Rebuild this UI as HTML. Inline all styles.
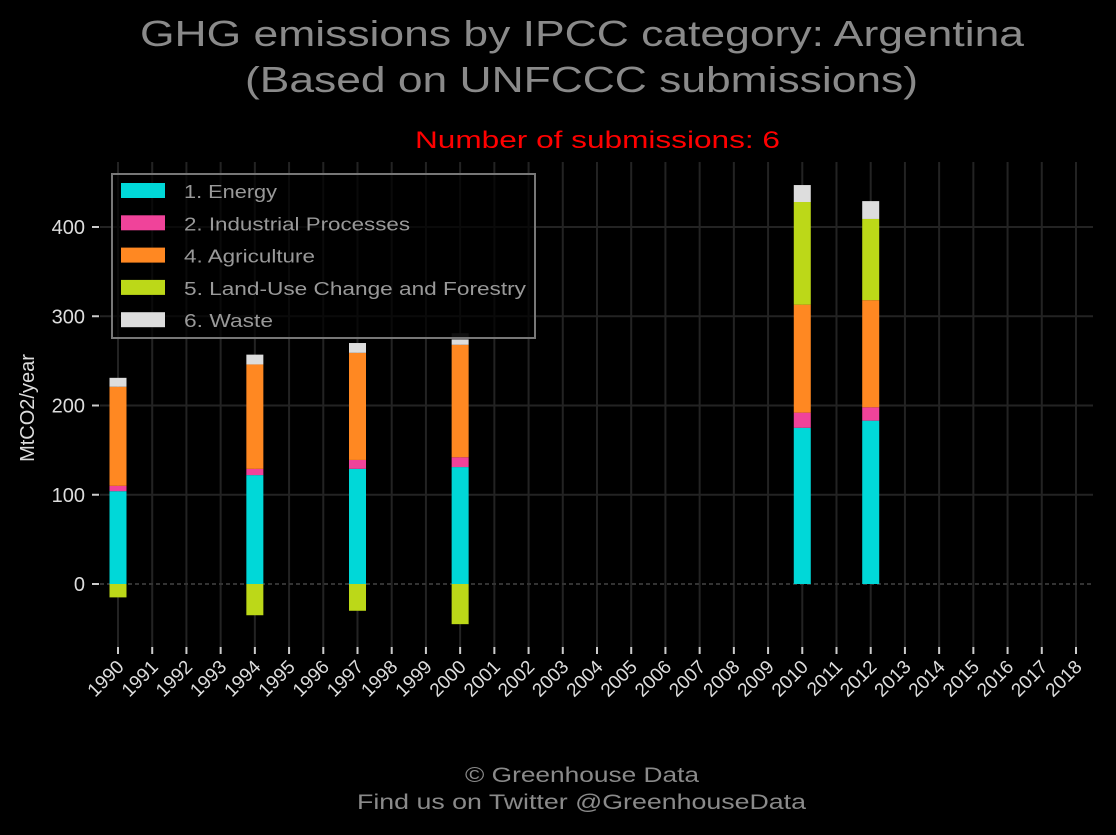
<!DOCTYPE html>
<html><head><meta charset="utf-8"><style>
body{margin:0;background:#000;width:1116px;height:830px;overflow:hidden;font-family:"Liberation Sans",sans-serif}
</style></head><body>
<svg width="1116" height="830" font-family="Liberation Sans, sans-serif">
<text x="140" y="46" textLength="884" lengthAdjust="spacingAndGlyphs" fill="#8a8a8a" font-size="36">GHG emissions by IPCC category: Argentina</text>
<text x="245" y="92" textLength="673" lengthAdjust="spacingAndGlyphs" fill="#8a8a8a" font-size="36">(Based on UNFCCC submissions)</text>
<text x="415" y="148" textLength="365" lengthAdjust="spacingAndGlyphs" fill="#ff0000" font-size="24">Number of submissions: 6</text>
<g id="grid"></g>
<g id="bars"></g>
<g id="axes"></g>
<text transform="translate(34,408) rotate(-90)" text-anchor="middle" fill="#ddd" font-size="20">MtCO2/year</text>
<g>
<rect x="112" y="174" width="423" height="164" fill="#000" fill-opacity="0.7" stroke="#777" stroke-width="2"/>
<g id="legend"></g>
</g>
<text x="465" y="782" textLength="234" lengthAdjust="spacingAndGlyphs" fill="#8a8a8a" font-size="21">© Greenhouse Data</text>
<text x="357" y="809" textLength="449" lengthAdjust="spacingAndGlyphs" fill="#8a8a8a" font-size="21">Find us on Twitter @GreenhouseData</text>
</svg>
<script>
const years=[];for(let y=1990;y<=2018;y++)years.push(y);
const barYears=[1990,1994,1997,2000,2010,2012];
const seriesNames=["1. Energy","2. Industrial Processes","4. Agriculture","5. Land-Use Change and Forestry","6. Waste"];
const energy=[104,122,129,131,175,183];
const industrial=[6,7,10,11,17,15];
const agriculture=[111,117,120,126,121,120];
const lucf=[-15,-35,-30,-45,115,91];
const waste=[10,11,11,6,19,20];
const other=[0,0,0,7,0,0];
const yTicks=[0,100,200,300,400];
const legendWidths=[93,226,131,342,89];
const colors=["#00d8d8","#f0439a","#ff8822","#bcd818","#dddddd","#333333"];
const NS="http://www.w3.org/2000/svg";
const X=y=>118+(y-1990)*34.214;
const Y=v=>584-v*0.8925;
function mk(t,a,p){const e=document.createElementNS(NS,t);for(const k in a)e.setAttribute(k,a[k]);p.appendChild(e);return e;}
const grid=document.getElementById('grid'),axes=document.getElementById('axes'),bars=document.getElementById('bars'),leg=document.getElementById('legend');
years.forEach(y=>{
 const l=mk('line',{x1:X(y),x2:X(y),y1:162,y2:648,stroke:'#232323','stroke-width':2},grid);
 
 const t=mk('line',{x1:X(y),x2:X(y),y1:647,y2:654,stroke:'#ccc','stroke-width':2},axes);
 
 const tx=mk('text',{transform:`translate(${X(y)+7},668) rotate(-45)`,'text-anchor':'end',fill:'#ddd','font-size':19},axes);
 tx.textContent=y;
 
});
yTicks.forEach(v=>{
 const l=mk('line',{x1:100,x2:1093,y1:Y(v),y2:Y(v),stroke:v===0?'#333':'#232323','stroke-width':2,'stroke-dasharray':v===0?'4,3':''},grid);
 
 const t=mk('line',{x1:92,x2:99,y1:Y(v),y2:Y(v),stroke:'#ccc','stroke-width':2},axes);
 
 const tx=mk('text',{x:85,y:Y(v)+7,'text-anchor':'end',fill:'#ddd','font-size':20},axes);
 tx.textContent=v;
 
});
const stack=[energy,industrial,agriculture,lucf,waste,other];
barYears.forEach((yr,i)=>{
 let pos=0,neg=0;
 stack.forEach((s,k)=>{
  const v=s[i];if(!v)return;
  let y0,y1;
  if(v>=0){y0=pos;y1=pos+v;pos=y1;}else{y0=neg;y1=neg+v;neg=y1;}
  const r=mk('rect',{x:X(yr)-8.5,width:17,y:Math.min(Y(y0),Y(y1)),height:Math.abs(Y(y0)-Y(y1)),fill:colors[k]},bars);
  
  
 });
});
seriesNames.forEach((n,k)=>{
 const y=191+k*32.3;
 const r=mk('rect',{x:121,y:y-8,width:44,height:15,fill:colors[k]},leg);
 
 const t=mk('text',{x:184,y:y+7,fill:'#999','font-size':18,textLength:legendWidths[k],lengthAdjust:'spacingAndGlyphs'},leg);
 t.textContent=n;
 
});
</script>
</body></html>
